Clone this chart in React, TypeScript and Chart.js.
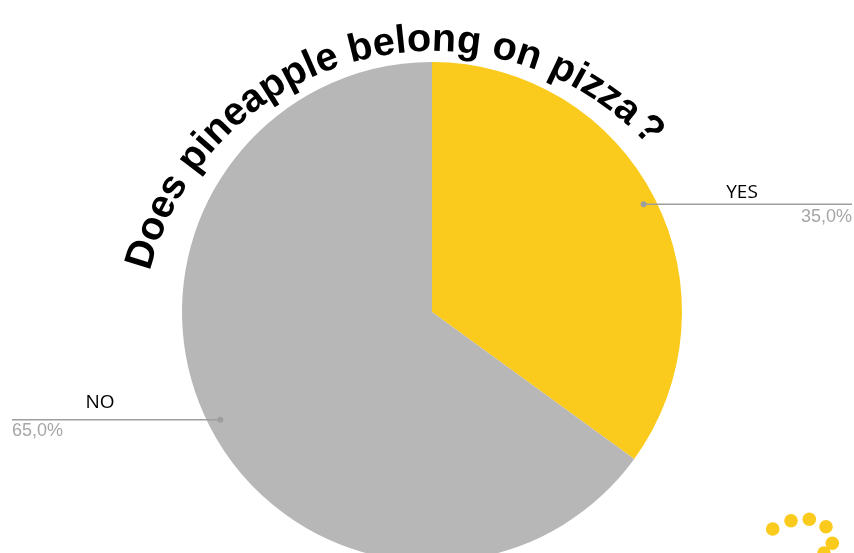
import React, { useEffect, useRef } from "react";
import { Chart, registerables } from "chart.js";

Chart.register(...registerables);

const TITLE = "Does pineapple belong on pizza?";
const LABELS = ["YES", "NO"];
const VALUES = [35, 65];
const COLORS = ["#FACB1C", "#B7B7B7"];

const W = 854;
const H = 700;

const arcTitlePlugin = {
  id: "arcTitle",
  afterDraw(chart: any) {
    const meta = chart.getDatasetMeta(0);
    const arc = meta.data[0];
    if (!arc) return;
    const { x, y } = arc.getProps(["x", "y"], true);
    const ctx = chart.ctx;
    const cx = x + 1;
    const cy = y + 31;
    const r = 292;
    ctx.save();
    ctx.font = 'bold 39.6px "Liberation Sans", Arial, sans-serif';
    ctx.fillStyle = "#000";
    ctx.textBaseline = "alphabetic";
    const chars = Array.from(TITLE);
    const widths = chars.map((c) => ctx.measureText(c).width);
    let a = (-75.8 * Math.PI) / 180;
    chars.forEach((c, i) => {
      const w = widths[i];
      if (c === "?") a += 5 / r;
      const mid = a + w / 2 / r;
      ctx.save();
      ctx.translate(cx + r * Math.sin(mid), cy - r * Math.cos(mid));
      ctx.rotate(mid);
      ctx.fillText(c, -w / 2, 0);
      ctx.restore();
      a += w / r;
    });
    ctx.restore();
  },
};

const calloutPlugin = {
  id: "callouts",
  afterDraw(chart: any) {
    const meta = chart.getDatasetMeta(0);
    const ctx = chart.ctx;
    const total = VALUES.reduce((s, v) => s + v, 0);
    meta.data.forEach((el: any, i: number) => {
      const p = el.getProps(["x", "y", "startAngle", "endAngle", "outerRadius"], true);
      const mid = (p.startAngle + p.endAngle) / 2;
      const px = p.x + Math.cos(mid) * p.outerRadius * 0.95;
      const py = p.y + Math.sin(mid) * p.outerRadius * 0.95;
      const right = Math.cos(mid) >= 0;
      const endX = right ? W - 2 : 12;
      ctx.save();
      ctx.strokeStyle = "#9E9E9E";
      ctx.lineWidth = 1.5;
      ctx.beginPath();
      ctx.moveTo(px, py);
      ctx.lineTo(endX, py);
      ctx.stroke();
      ctx.fillStyle = "#9E9E9E";
      ctx.beginPath();
      ctx.arc(px, py, 3, 0, Math.PI * 2);
      ctx.fill();
      // name
      ctx.fillStyle = "#000";
      ctx.font = '19px "Open Sans", sans-serif';
      ctx.textAlign = "center";
      ctx.textBaseline = "alphabetic";
      const nameX = right ? W - 112 : 100;
      const nameY = right ? py - 6.5 : py - 11.5;
      ctx.fillText(LABELS[i], nameX, nameY);
      // percentage
      const pct = ((VALUES[i] / total) * 100).toFixed(1).replace(".", ",") + "%";
      ctx.fillStyle = "#A6A6A6";
      ctx.font = '18px "Liberation Sans", Arial, sans-serif';
      ctx.textAlign = right ? "right" : "left";
      ctx.fillText(pct, endX, right ? py + 18 : py + 16.5);
      ctx.restore();
    });
  },
};

const DOTS: [number, number][] = [
  [772.7, 529],
  [791, 520.7],
  [809.3, 519.3],
  [826, 526.7],
  [832.3, 543.3],
  [824, 553],
];

const decoPlugin = {
  id: "deco",
  afterDraw(chart: any) {
    const ctx = chart.ctx;
    ctx.save();
    ctx.fillStyle = "#FACB1C";
    DOTS.forEach(([x, y]) => {
      ctx.beginPath();
      ctx.arc(x, y, 6.8, 0, Math.PI * 2);
      ctx.fill();
    });
    ctx.restore();
  },
};

export default function App() {
  const ref = useRef<HTMLCanvasElement | null>(null);
  useEffect(() => {
    if (!ref.current) return;
    const chart = new Chart(ref.current, {
      type: "pie",
      data: {
        labels: LABELS,
        datasets: [
          {
            data: VALUES,
            backgroundColor: COLORS,
            borderWidth: 0,
            hoverOffset: 0,
          },
        ],
      },
      options: {
        responsive: false,
        animation: false,
        layout: { padding: { left: 182, right: 172, top: 62, bottom: 138 } },
        plugins: {
          legend: { display: false },
          tooltip: { enabled: false },
          title: { display: false },
        },
      },
      plugins: [arcTitlePlugin, calloutPlugin, decoPlugin],
    });
    return () => chart.destroy();
  }, []);
  return (
    <div
      style={{
        position: "absolute",
        left: 0,
        top: 0,
        width: W,
        height: 553,
        overflow: "hidden",
        background: "#fff",
      }}
    >
      <canvas ref={ref} width={W} height={H} style={{ display: "block" }} />
    </div>
  );
}
